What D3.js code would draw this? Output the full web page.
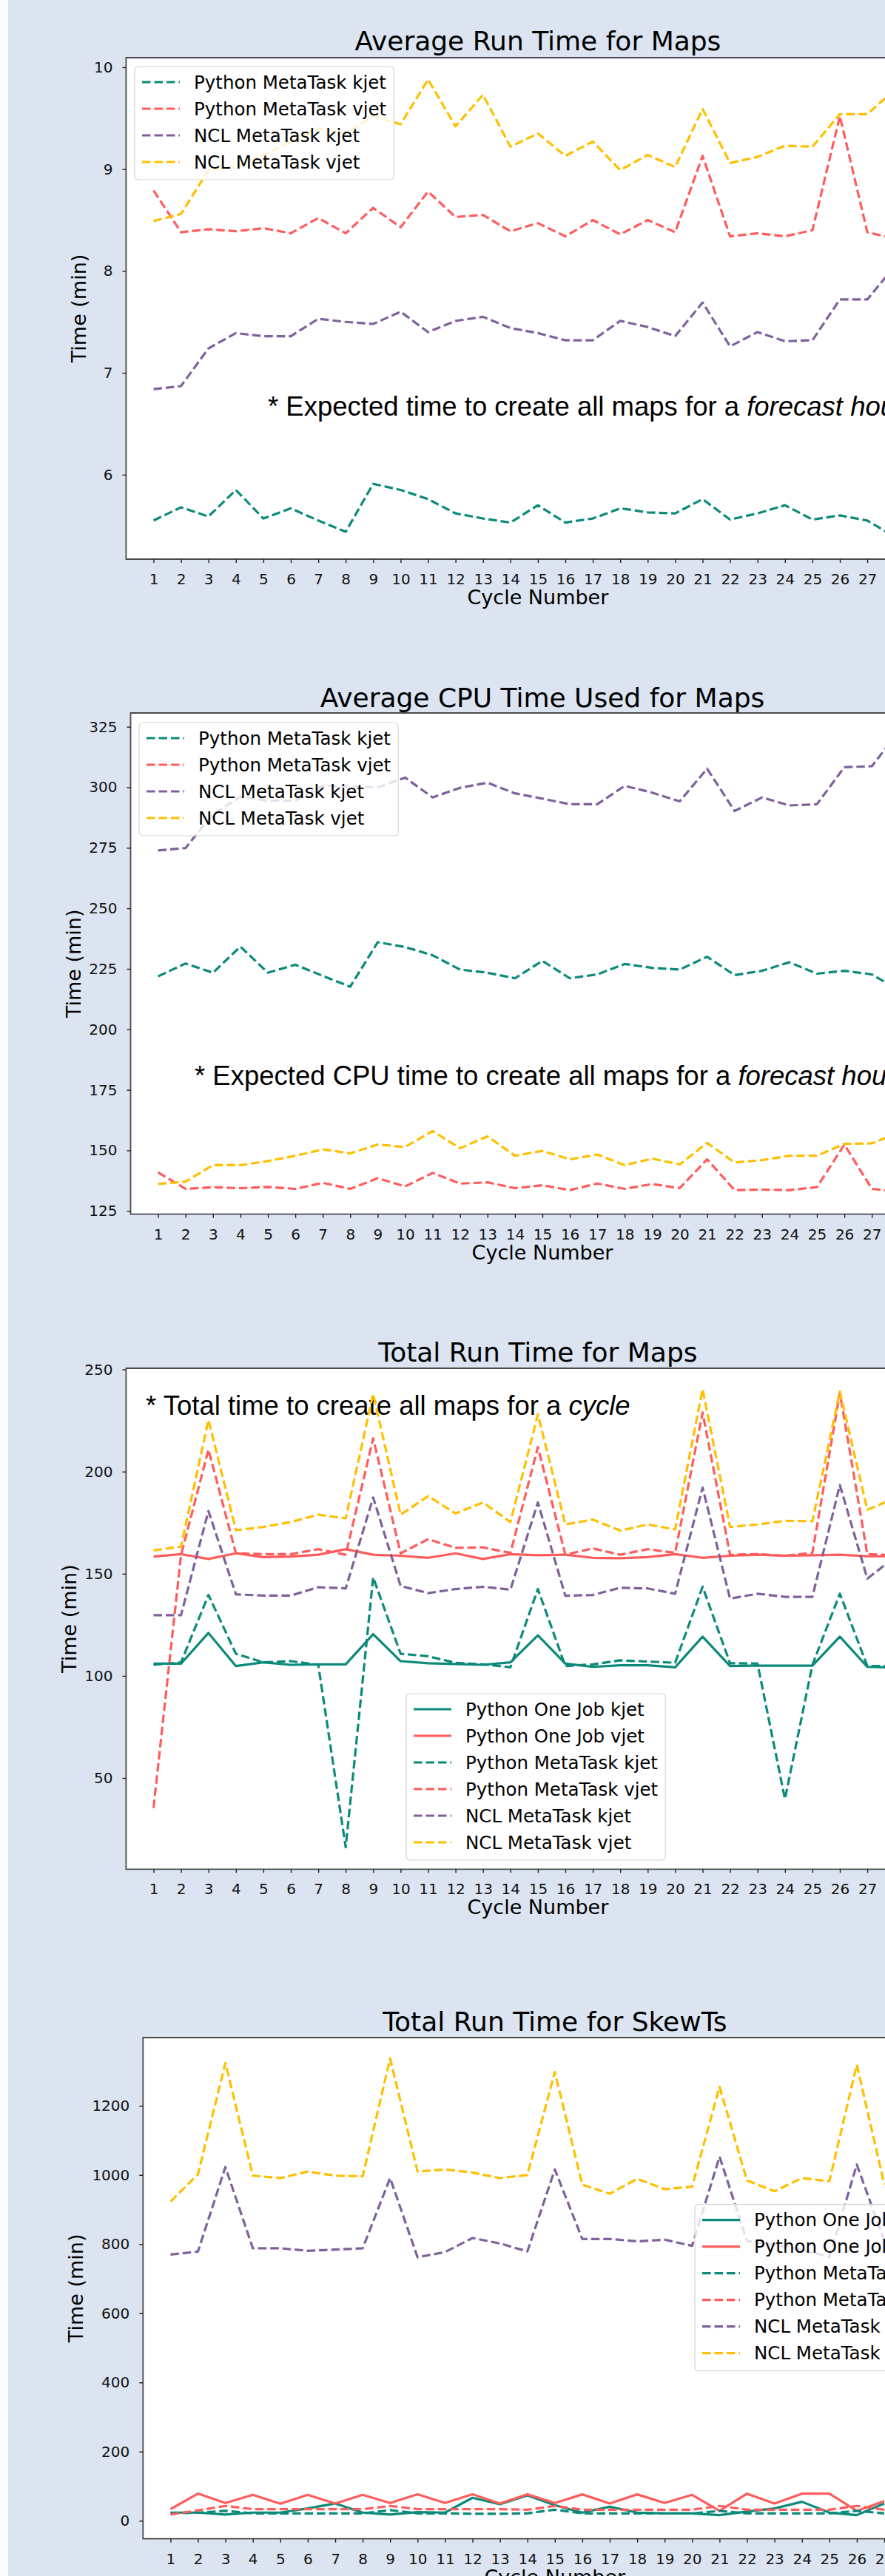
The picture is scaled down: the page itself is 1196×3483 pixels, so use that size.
<!DOCTYPE html>
<html lang="en">
<head>
<meta charset="UTF-8">
<title>Map and SkewT run times</title>
<style>
  html, body { margin: 0; padding: 0; background: #dbe4f0; overflow: hidden; }
  svg { display: block; }
</style>
</head>
<body>
<svg id="fig" width="1196" height="3483"></svg>
<script src="https://cdn.jsdelivr.net/npm/d3@7/dist/d3.min.js"></script>
<script>

// Data

const cycles = [1, 2, 3, 4, 5, 6, 7, 8, 9, 10, 11, 12, 13, 14, 15, 16, 17, 18, 19, 20, 21, 22, 23, 24, 25, 26, 27, 28];
const xTicks = [1, 2, 3, 4, 5, 6, 7, 8, 9, 10, 11, 12, 13, 14, 15, 16, 17, 18, 19, 20, 21, 22, 23, 24, 25, 26, 27, 28, 29];

// Average Run Time for Maps (min)
const avgRunPyKjet = [5.55, 5.68, 5.59, 5.85, 5.57, 5.67, 5.55, 5.44, 5.91, 5.85, 5.76, 5.62, 5.57, 5.53, 5.70, 5.53, 5.57, 5.67, 5.63, 5.62, 5.76, 5.56, 5.62, 5.70, 5.56, 5.60, 5.55, 5.39];
const avgRunPyVjet = [8.79, 8.38, 8.41, 8.39, 8.42, 8.37, 8.52, 8.37, 8.62, 8.43, 8.78, 8.53, 8.55, 8.39, 8.47, 8.34, 8.50, 8.36, 8.50, 8.38, 9.13, 8.34, 8.37, 8.34, 8.40, 9.52, 8.38, 8.32];
const avgRunNclKjet = [6.84, 6.87, 7.24, 7.39, 7.36, 7.36, 7.53, 7.50, 7.48, 7.60, 7.40, 7.51, 7.55, 7.44, 7.39, 7.32, 7.32, 7.51, 7.45, 7.36, 7.69, 7.26, 7.40, 7.31, 7.32, 7.72, 7.72, 8.05];
const avgRunNclVjet = [8.49, 8.56, 8.99, 9.02, 9.14, 9.27, 9.40, 9.35, 9.52, 9.44, 9.88, 9.42, 9.73, 9.22, 9.35, 9.13, 9.27, 8.99, 9.14, 9.02, 9.59, 9.06, 9.12, 9.23, 9.22, 9.54, 9.54, 9.78];
const avgRunTicks = [6, 7, 8, 9, 10];

// Average CPU Time Used for Maps (min)
const cpuPyKjet = [221.9, 227.2, 223.4, 234.2, 223.4, 226.7, 222.1, 217.6, 236.0, 234.0, 230.6, 224.7, 223.4, 221.1, 228.3, 221.1, 222.7, 227.0, 225.4, 224.7, 230.0, 222.4, 224.2, 227.7, 223.0, 224.2, 222.7, 216.1];
const cpuPyVjet = [140.9, 134.1, 134.8, 134.4, 134.9, 134.1, 136.6, 134.1, 138.5, 135.1, 140.7, 136.3, 136.8, 134.4, 135.6, 133.6, 136.3, 134.1, 136.1, 134.4, 146.3, 133.6, 133.8, 133.6, 134.8, 152.4, 134.1, 133.0];
const cpuNclKjet = [273.9, 274.9, 289.0, 296.0, 294.5, 294.5, 300.5, 300.5, 300.0, 304.0, 295.8, 299.8, 301.9, 297.5, 295.3, 293.0, 293.0, 300.6, 297.8, 294.2, 307.7, 290.2, 295.8, 292.5, 293.0, 308.3, 308.7, 323.3];
const cpuNclVjet = [136.1, 137.1, 143.9, 143.9, 145.6, 147.8, 150.4, 148.8, 152.4, 151.4, 158.0, 150.9, 155.8, 147.8, 149.8, 146.3, 148.3, 143.9, 146.6, 144.2, 153.1, 145.0, 146.0, 147.8, 147.8, 152.7, 152.9, 157.3];
const cpuTicks = [125, 150, 175, 200, 225, 250, 275, 300, 325];

// Total Run Time for Maps (min)
const totPyOneKjet = [106, 106, 121, 104.8, 106.6, 105.4, 105.6, 105.6, 120.4, 107.2, 106.2, 105.8, 105.4, 106.6, 119.8, 106, 104.4, 105.2, 105.2, 104.2, 119.2, 104.8, 105, 105, 105, 119.2, 104.4, 104];
const totPyOneVjet = [158.4, 159.6, 157.2, 160, 158.1, 158.4, 159.3, 162, 159.3, 158.8, 157.8, 160, 157.2, 159.6, 159, 159.3, 157.8, 157.6, 158.1, 159.6, 157.8, 158.8, 159.3, 158.8, 159, 159.3, 158.6, 158.5];
const totPyMetaKjet = [105.4, 106.6, 139.6, 110.8, 106.6, 107.2, 105.4, 16.1, 148.2, 110.8, 109.6, 106.4, 105.6, 104.2, 142.5, 104.8, 105.6, 107.6, 107, 106.4, 143.6, 106.2, 106, 39.7, 105.4, 140.2, 104.8, 104.8];
const totPyMetaVjet = [35.3, 159, 210.8, 160, 159.6, 159.6, 162, 159.3, 216.3, 160, 166.9, 162.7, 162.9, 160.2, 212, 159.3, 162.4, 159.3, 162, 160.2, 228.9, 159.3, 159.6, 158.8, 160.2, 238.6, 159.6, 159];
const totNclKjet = [129.7, 129.7, 180.7, 139.9, 139.3, 139.3, 143.4, 142.8, 187.3, 144, 140.5, 142.5, 143.6, 142.2, 184.9, 139.2, 139.6, 143.1, 142.8, 140.2, 192.2, 137.8, 140.2, 138.7, 138.7, 193.4, 147.6, 158];
const totNclVjet = [161.4, 163.3, 225.3, 171.3, 172.9, 175.3, 178.9, 177.1, 238, 178.9, 188, 179.5, 184.9, 175.3, 228, 174.1, 176.5, 171.1, 174.1, 171.7, 240.4, 172.9, 174.1, 175.9, 175.7, 239.2, 181.3, 187];
const totTicks = [50, 100, 150, 200, 250];

// Total Run Time for SkewTs (min)
const skewPyOneKjet = [23.6, 23.6, 17.9, 23.6, 23.6, 35.7, 50, 23.6, 17.9, 25, 23.6, 66.4, 47.9, 73.4, 44.9, 23.5, 40.6, 23.5, 21.4, 21.4, 16.4, 26.4, 35.6, 54.9, 23.5, 16.4, 50];
const skewPyOneVjet = [33.6, 78.6, 51.4, 75, 49.3, 75, 50, 75, 51.4, 76.4, 51.4, 76.4, 50, 76.3, 51.3, 76.3, 50, 76.3, 51.3, 74.9, 28.5, 78.4, 50, 78.4, 78.4, 28.5, 57];
const skewPyMetaKjet = [21.4, 23.6, 28.6, 21.4, 21.4, 21.4, 21.4, 21.4, 30.7, 21.4, 21.4, 20, 20, 21.4, 32, 21.4, 21.4, 21.4, 21.4, 21.4, 28.5, 21.4, 21.4, 21.4, 21.4, 28.5, 21.4];
const skewPyMetaVjet = [17.9, 30, 42.9, 33.6, 33.6, 33.6, 33.6, 33.6, 42.9, 33.6, 33.6, 33.6, 33.6, 32, 42.8, 32, 32, 32, 32, 32, 42.8, 32, 32, 32, 32, 42.8, 32];
const skewNclKjet = [770, 778.6, 1023, 787.9, 787.9, 780.7, 784.3, 787.9, 991, 762, 777, 817.8, 802, 779, 1016, 815, 815, 808, 813, 795, 1053, 809, 798.5, 784, 763, 1030, 810];
const skewNclVjet = [923, 1002, 1324, 998, 991, 1010, 998, 996, 1337, 1010, 1016, 1007, 991, 1000, 1298, 972, 946, 989, 959, 966, 1255, 984, 953, 991, 982, 1319, 973];
const skewTicks = [0, 200, 400, 600, 800, 1000, 1200];

// Colors

const TEAL = '#0b8a7a';
const RED = '#ff5c5c';
const PURPLE = '#7e619c';
const YELLOW = '#ffbf00';

// Layout

const STEP = 37.1; // px per cycle
const PLOT_W = 30 * STEP; // x runs 0..30, right part falls off the page
const FONT = '"DejaVu Sans", sans-serif';
const NOTE_FONT = '"Liberation Sans", Arial, sans-serif';

const metaSeries = (pk, pv, nk, nv) => [
  { name: 'Python MetaTask kjet', values: pk, color: TEAL, dashed: true },
  { name: 'Python MetaTask vjet', values: pv, color: RED, dashed: true },
  { name: 'NCL MetaTask kjet', values: nk, color: PURPLE, dashed: true },
  { name: 'NCL MetaTask vjet', values: nv, color: YELLOW, dashed: true },
];

const charts = [
  {
    title: 'Average Run Time for Maps',
    left: 170.4, top: 78, bottom: 756, titleY: 68.3, yLabelX: 107,
    yDomain: [5.171, 10.094], yTicks: avgRunTicks,
    series: metaSeries(avgRunPyKjet, avgRunPyVjet, avgRunNclKjet, avgRunNclVjet),
    legend: { x: 182, y: 90 },
    note: { x: 362, y: 562.3, text: '* Expected time to create all maps for a ', italic: 'forecast hour' },
  },
  {
    title: 'Average CPU Time Used for Maps',
    left: 176.5, top: 964, bottom: 1641.7, titleY: 956, yLabelX: 100,
    yDomain: [123.65, 330.7], yTicks: cpuTicks,
    series: metaSeries(cpuPyKjet, cpuPyVjet, cpuNclKjet, cpuNclVjet),
    legend: { x: 188, y: 977 },
    note: { x: 263, y: 1466.7, text: '* Expected CPU time to create all maps for a ', italic: 'forecast hour' },
  },
  {
    title: 'Total Run Time for Maps',
    left: 170.4, top: 1850, bottom: 2527.3, titleY: 1840.7, yLabelX: 94,
    yDomain: [5.35, 250.6], yTicks: totTicks,
    series: [
      { name: 'Python One Job kjet', values: totPyOneKjet, color: TEAL, dashed: false },
      { name: 'Python One Job vjet', values: totPyOneVjet, color: RED, dashed: false },
    ].concat(metaSeries(totPyMetaKjet, totPyMetaVjet, totNclKjet, totNclVjet)),
    legend: { x: 549, y: 2290 },
    note: { x: 197, y: 1912.7, text: '* Total time to create all maps for a ', italic: 'cycle' },
  },
  {
    title: 'Total Run Time for SkewTs',
    left: 193.3, top: 2755, bottom: 3432.7, titleY: 2746, yLabelX: 103,
    yDomain: [-52.2, 1397.4], yTicks: skewTicks,
    series: [
      { name: 'Python One Job kjet', values: skewPyOneKjet, color: TEAL, dashed: false },
      { name: 'Python One Job vjet', values: skewPyOneVjet, color: RED, dashed: false },
    ].concat(metaSeries(skewPyMetaKjet, skewPyMetaVjet, skewNclKjet, skewNclVjet)),
    legend: { x: 939, y: 2980.7 },
    note: null,
  },
];

// SVG

const svg = d3.select('#fig');

svg.append('rect')
  .attr('width', 1196).attr('height', 3483)
  .attr('fill', '#dbe4f0');

svg.append('rect')
  .attr('width', 11).attr('height', 3483)
  .attr('fill', '#fafbfc');

charts.forEach((c, i) => {
  const x = d3.scaleLinear().domain([0, 30]).range([c.left, c.left + PLOT_W]);
  const y = d3.scaleLinear().domain(c.yDomain).range([c.bottom, c.top]);

  const g = svg.append('g');

  // Plot area

  g.append('rect')
    .attr('x', c.left).attr('y', c.top)
    .attr('width', PLOT_W).attr('height', c.bottom - c.top)
    .attr('fill', '#fff');

  g.append('clipPath').attr('id', 'clip' + i)
    .append('rect')
      .attr('x', c.left).attr('y', c.top)
      .attr('width', PLOT_W).attr('height', c.bottom - c.top);

  // Annotation (under the lines)

  if (c.note) {
    const t = g.append('text')
      .attr('x', c.note.x).attr('y', c.note.y)
      .attr('font-family', NOTE_FONT)
      .attr('font-size', 36.5)
      .attr('fill', '#000')
      .attr('xml:space', 'preserve');
    t.append('tspan').text(c.note.text);
    t.append('tspan').attr('font-style', 'italic').text(c.note.italic);
  }

  // Lines

  const line = d3.line()
    .x((d, k) => x(cycles[k]))
    .y(d => y(d));

  g.append('g')
    .attr('clip-path', `url(#clip${i})`)
    .attr('fill', 'none')
    .selectAll('path')
    .data(c.series)
    .join('path')
      .attr('d', d => line(d.values))
      .attr('stroke', d => d.color)
      .attr('stroke-width', 3.2)
      .attr('stroke-linejoin', 'round')
      .attr('stroke-dasharray', d => d.dashed ? '11.5,5' : null);

  // Frame

  g.append('path')
    .attr('d', `M${c.left + PLOT_W + 5},${c.top}H${c.left}V${c.bottom}H${c.left + PLOT_W + 5}`)
    .attr('fill', 'none')
    .attr('stroke', '#4a4a4a')
    .attr('stroke-width', 1.8);

  // Axes

  const xAxis = g.append('g')
    .attr('transform', `translate(0,${c.bottom})`)
    .call(d3.axisBottom(x).tickValues(xTicks).tickSize(5).tickPadding(14.8).tickFormat(d3.format('d')));

  const yAxis = g.append('g')
    .attr('transform', `translate(${c.left},0)`)
    .call(d3.axisLeft(y).tickValues(c.yTicks).tickSize(5).tickPadding(13).tickFormat(d3.format('d')));

  [xAxis, yAxis].forEach(a => {
    a.select('.domain').remove();
    a.selectAll('line').attr('stroke', '#222').attr('stroke-width', 1.4);
    a.selectAll('text')
      .attr('font-family', FONT)
      .attr('font-size', 20)
      .attr('fill', '#111');
  });

  // Titles

  g.append('text')
    .attr('x', c.left + PLOT_W / 2).attr('y', c.titleY)
    .attr('text-anchor', 'middle')
    .attr('font-family', FONT)
    .attr('font-size', 36)
    .attr('fill', '#000')
    .text(c.title);

  g.append('text')
    .attr('x', c.left + PLOT_W / 2).attr('y', c.bottom + 61)
    .attr('text-anchor', 'middle')
    .attr('font-family', FONT)
    .attr('font-size', 27)
    .attr('fill', '#000')
    .text('Cycle Number');

  g.append('text')
    .attr('transform', `translate(${c.yLabelX},${(c.top + c.bottom) / 2}) rotate(-90)`)
    .attr('dy', '0.35em')
    .attr('text-anchor', 'middle')
    .attr('font-family', FONT)
    .attr('font-size', 27)
    .attr('fill', '#000')
    .text('Time (min)');

  // Legend

  const n = c.series.length;
  const lg = g.append('g').attr('transform', `translate(${c.legend.x},${c.legend.y})`);
  const box = lg.append('rect')
    .attr('height', n * 36 + 9)
    .attr('rx', 5)
    .attr('fill', '#fff')
    .attr('fill-opacity', 0.8)
    .attr('stroke', '#d6d6d6')
    .attr('stroke-width', 1.2);

  const rows = lg.selectAll('g.row')
    .data(c.series)
    .join('g')
      .attr('class', 'row')
      .attr('transform', (d, k) => `translate(0,${21 + k * 36})`);

  rows.append('line')
    .attr('x1', 10).attr('x2', 61)
    .attr('stroke', d => d.color)
    .attr('stroke-width', 3.2)
    .attr('stroke-dasharray', d => d.dashed ? '11.5,5' : null);

  rows.append('text')
    .attr('x', 80)
    .attr('dy', '0.35em')
    .attr('font-family', FONT)
    .attr('font-size', 24.5)
    .attr('fill', '#000')
    .text(d => d.name);

  const textW = d3.max(rows.selectAll('text').nodes(), t => t.getComputedTextLength());
  box.attr('width', 80 + textW + 10);
});
</script>
</body>
</html>
